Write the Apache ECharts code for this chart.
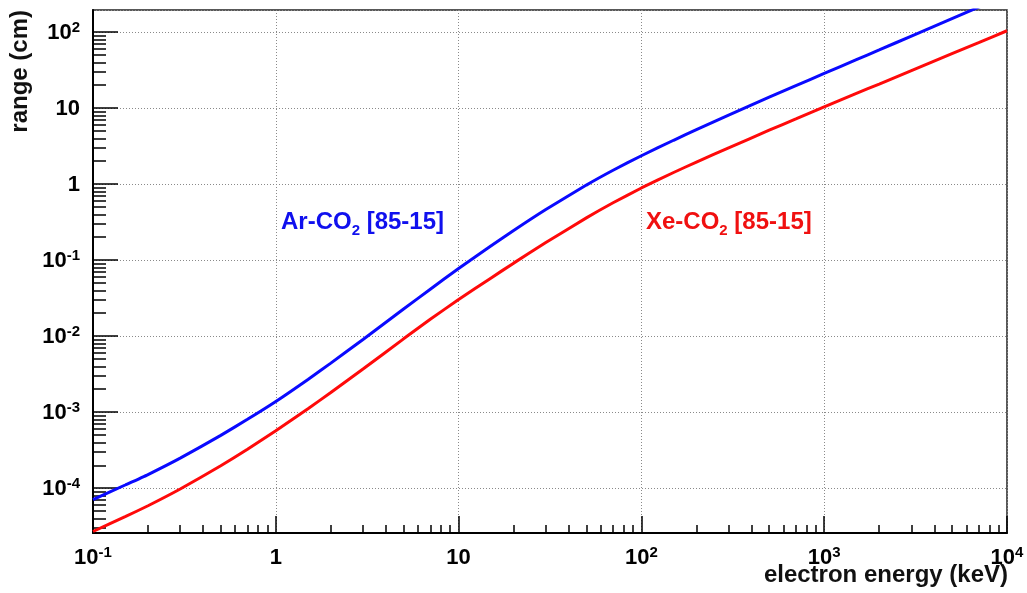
<!DOCTYPE html>
<html>
<head>
<meta charset="utf-8">
<script src="https://cdn.jsdelivr.net/npm/echarts@6/dist/echarts.min.js"></script>
<style>
html,body{margin:0;padding:0;background:#fff;}
#chart{width:1027px;height:593px;}
</style>
</head>
<body>
<div id="chart"></div>
<script>
// electron energy (keV)
const energy = [0.1,0.15,0.2,0.3,0.5,0.7,1,1.5,2,3,5,7,10,15,20,30,50,70,100,150,200,300,500,700,1000,1500,2000,3000,5000,7000,10000];
// range (cm) in Ar-CO2 [85-15]
const rangeAr = [7.08e-5,1.10e-4,1.51e-4,2.48e-4,4.95e-4,8.04e-4,1.38e-3,2.69e-3,4.41e-3,9.04e-3,0.0227,0.0414,0.0776,0.153,0.245,0.462,0.970,1.52,2.36,3.77,5.20,8.09,13.9,19.7,28.5,43.3,58.2,88.5,150,212,306];
// range (cm) in Xe-CO2 [85-15]
const rangeXe = [2.69e-5,4.21e-5,5.87e-5,9.75e-5,1.97e-4,3.24e-4,5.69e-4,1.11e-3,1.81e-3,3.69e-3,9.21e-3,0.01665,0.0303,0.0579,0.0912,0.170,0.359,0.568,0.889,1.42,1.95,3.00,5.11,7.21,10.4,15.6,20.7,31.1,51.9,72.6,104];
// axis ranges and tick marks
const xMin = 0.1, xMax = 10000;
const yMin = 2.57e-5, yMax = 195;
const xMinor = [];
for (let e = -1; e < 4; e++) for (let k = 2; k <= 9; k++) xMinor.push(k * Math.pow(10, e));
const yMinor = [];
for (let e = -5; e < 3; e++) for (let k = 2; k <= 9; k++) { const v = k * Math.pow(10, e); if (v > yMin && v < yMax) yMinor.push(v); }

const FONT = '"Liberation Sans", Arial, Helvetica, sans-serif';

function powLabel(v) {
  const e = Math.round(Math.log10(v));
  if (e === 0) return '{b|1}';
  if (e === 1) return '{b|10}';
  return '{b|10}{s|' + e + '}';
}
const richLab = {
  b: {fontSize: 22, fontWeight: 'bold', fontFamily: FONT, color: '#000', lineHeight: 24, verticalAlign: 'bottom'},
  s: {fontSize: 15, fontWeight: 'bold', fontFamily: FONT, color: '#000', lineHeight: 24, verticalAlign: 'top'}
};

const chart = echarts.init(document.getElementById('chart'), null, {renderer: 'canvas'});
const gridLine = {show: true, lineStyle: {color: '#8a8a8a', width: 1, type: [1, 2]}};

chart.setOption({
  animation: false,
  backgroundColor: '#fff',
  grid: {left: 93, right: 20, top: 10, bottom: 60, show: true, borderColor: '#222', borderWidth: 1.5, backgroundColor: 'transparent'},
  xAxis: [
    {type: 'log', logBase: 10, min: xMin, max: xMax, position: 'bottom',
     axisLine: {show: true, lineStyle: {color: '#000', width: 2}},
     axisTick: {show: true, inside: true, length: 17, lineStyle: {color: '#000', width: 1.5}},
     axisLabel: {show: true, margin: 12, formatter: powLabel, rich: richLab},
     splitLine: gridLine, minorTick: {show: false}},
    {type: 'log', logBase: 10, min: xMin, max: xMax, position: 'bottom',
     axisLine: {show: false},
     axisTick: {show: true, inside: true, length: 8, customValues: xMinor, lineStyle: {color: '#000', width: 1.5}},
     axisLabel: {show: false}, splitLine: {show: false}}
  ],
  yAxis: [
    {type: 'log', logBase: 10, min: yMin, max: yMax, position: 'left',
     axisLine: {show: true, lineStyle: {color: '#000', width: 2}},
     axisTick: {show: true, inside: true, length: 25, lineStyle: {color: '#000', width: 1.5}},
     axisLabel: {show: true, margin: 13, showMinLabel: false, showMaxLabel: false, formatter: powLabel, rich: richLab},
     splitLine: gridLine},
    {type: 'log', logBase: 10, min: yMin, max: yMax, position: 'left',
     axisLine: {show: false},
     axisTick: {show: true, inside: true, length: 13, customValues: yMinor, lineStyle: {color: '#000', width: 1.5}},
     axisLabel: {show: false}, splitLine: {show: false}}
  ],
  series: [
    {name: 'Ar-CO2 [85-15]', type: 'line', xAxisIndex: 0, yAxisIndex: 0, showSymbol: false, smooth: 0.15, clip: true,
     lineStyle: {color: '#0a0aff', width: 3}, itemStyle: {color: '#0a0aff'},
     data: energy.map((x, i) => [x, rangeAr[i]])},
    {name: 'Xe-CO2 [85-15]', type: 'line', xAxisIndex: 0, yAxisIndex: 0, showSymbol: false, smooth: 0.15, clip: true,
     lineStyle: {color: '#ff0a0a', width: 3}, itemStyle: {color: '#ff0a0a'},
     data: energy.map((x, i) => [x, rangeXe[i]])}
  ],
  graphic: [
    {type: 'text', left: 281, top: 210, z: 10, style: {
      text: '{a|Ar-CO}{u|2}{a| [85-15]}',
      rich: {a: {fontSize: 24, fontWeight: 'bold', fontFamily: FONT, fill: '#1010ee', lineHeight: 28, verticalAlign: 'top'},
             u: {fontSize: 15, fontWeight: 'bold', fontFamily: FONT, fill: '#1010ee', lineHeight: 28, verticalAlign: 'bottom'}}}},
    {type: 'text', left: 646, top: 210, z: 10, style: {
      text: '{a|Xe-CO}{u|2}{a| [85-15]}',
      rich: {a: {fontSize: 24, fontWeight: 'bold', fontFamily: FONT, fill: '#f01010', lineHeight: 28, verticalAlign: 'top'},
             u: {fontSize: 15, fontWeight: 'bold', fontFamily: FONT, fill: '#f01010', lineHeight: 28, verticalAlign: 'bottom'}}}},
    {type: 'text', x: 1008, y: 575, z: 10, style: {
      text: 'electron energy (keV)', font: 'bold 24px ' + FONT, fill: '#111', align: 'right', verticalAlign: 'middle'}},
    {type: 'text', x: 20, y: 10, rotation: Math.PI / 2, z: 10, style: {
      text: 'range (cm)', font: 'bold 24px ' + FONT, fill: '#111', align: 'right', verticalAlign: 'middle'}}
  ]
});
</script>
</body>
</html>
